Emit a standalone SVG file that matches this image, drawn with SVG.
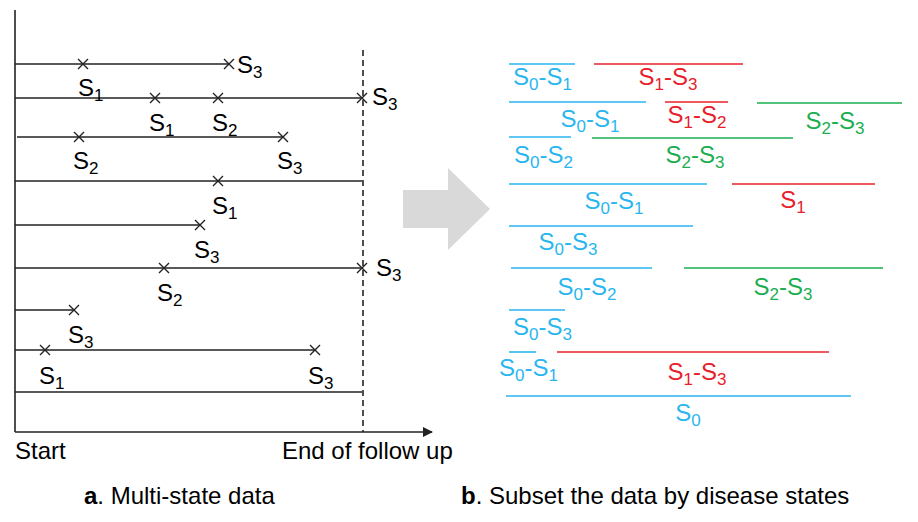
<svg xmlns="http://www.w3.org/2000/svg" width="918" height="522" viewBox="0 0 918 522">
<style>
text{font-family:"Liberation Sans",Arial,sans-serif;font-size:24px}
.s{font-size:17px}
.k{stroke:#222;stroke-width:1.6;fill:none}
.b{stroke:#29b6ef;stroke-width:1.6}
.r{stroke:#e8202a;stroke-width:1.6}
.g{stroke:#1aae4f;stroke-width:1.6}
.tb{fill:#29b6ef}.tr{fill:#e8202a}.tg{fill:#1aae4f}
</style>
<defs>
<path id="x" d="M-5,-5L5,5M-5,5L5,-5" stroke="#222" stroke-width="1.4"/>
<marker id="ar" markerWidth="10" markerHeight="10" refX="9" refY="5" orient="auto" markerUnits="userSpaceOnUse"><path d="M0,0L10,5L0,10z" fill="#222"/></marker>
</defs>
<rect width="918" height="522" fill="#fff"/>
<g id="axes">
<line class="k" x1="15" y1="10" x2="15" y2="432"/>
<line class="k" x1="15" y1="432" x2="432" y2="432" marker-end="url(#ar)"/>
<line class="k" x1="363" y1="50" x2="363" y2="432" stroke-dasharray="6,4"/>
<text x="15" y="459" font-size="18">Start</text>
<text x="282" y="459" font-size="18">End of follow up</text>
</g>
<g id="connectors" class="k">
<line x1="15" y1="64" x2="229" y2="64"/>
<line x1="15" y1="98" x2="362" y2="98"/>
<line x1="17" y1="137" x2="283" y2="137"/>
<line x1="15" y1="181" x2="362" y2="181"/>
<line x1="15" y1="225" x2="200" y2="225"/>
<line x1="15" y1="268" x2="362" y2="268"/>
<line x1="15" y1="310" x2="74" y2="310"/>
<line x1="15" y1="350" x2="315" y2="350"/>
<line x1="15" y1="392" x2="362" y2="392"/>
</g>
<g id="marks">
<use href="#x" x="83" y="64"/><use href="#x" x="229" y="64"/>
<use href="#x" x="155" y="98"/><use href="#x" x="218" y="98"/><use href="#x" x="362" y="98"/>
<use href="#x" x="79" y="137"/><use href="#x" x="283" y="137"/>
<use href="#x" x="218" y="181"/>
<use href="#x" x="200" y="225"/>
<use href="#x" x="164" y="268"/><use href="#x" x="362" y="268"/>
<use href="#x" x="74" y="310"/>
<use href="#x" x="45" y="350"/><use href="#x" x="315" y="350"/>
</g>
<g id="left-labels">
<text x="237" y="73">S<tspan class="s" dy="5">3</tspan></text>
<text x="78" y="96">S<tspan class="s" dy="5">1</tspan></text>
<text x="149" y="131">S<tspan class="s" dy="5">1</tspan></text>
<text x="212" y="131">S<tspan class="s" dy="5">2</tspan></text>
<text x="372" y="105">S<tspan class="s" dy="5">3</tspan></text>
<text x="73" y="169">S<tspan class="s" dy="5">2</tspan></text>
<text x="277" y="169">S<tspan class="s" dy="5">3</tspan></text>
<text x="212" y="214">S<tspan class="s" dy="5">1</tspan></text>
<text x="194" y="258">S<tspan class="s" dy="5">3</tspan></text>
<text x="157" y="301">S<tspan class="s" dy="5">2</tspan></text>
<text x="376" y="276">S<tspan class="s" dy="5">3</tspan></text>
<text x="68" y="343">S<tspan class="s" dy="5">3</tspan></text>
<text x="39" y="384">S<tspan class="s" dy="5">1</tspan></text>
<text x="308" y="384">S<tspan class="s" dy="5">3</tspan></text>
</g>
<g id="arrow"><polygon points="403,190 448,190 448,168 490,209 448,250 448,228 403,228" fill="#d9d9d9"/></g>
<g id="subsets">
<line class="b" x1="509" y1="64" x2="575" y2="64"/><text class="tb" x="513" y="85">S<tspan class="s" dy="5">0</tspan><tspan dy="-5">-S</tspan><tspan class="s" dy="5">1</tspan></text>
<line class="r" x1="594" y1="64" x2="743" y2="64"/><text class="tr" x="668" y="85" text-anchor="middle">S<tspan class="s" dy="5">1</tspan><tspan dy="-5">-S</tspan><tspan class="s" dy="5">3</tspan></text>
<line class="b" x1="509" y1="102" x2="646" y2="102"/><text class="tb" x="590" y="127" text-anchor="middle">S<tspan class="s" dy="5">0</tspan><tspan dy="-5">-S</tspan><tspan class="s" dy="5">1</tspan></text>
<line class="r" x1="665" y1="102" x2="728" y2="102"/><text class="tr" x="697" y="123" text-anchor="middle">S<tspan class="s" dy="5">1</tspan><tspan dy="-5">-S</tspan><tspan class="s" dy="5">2</tspan></text>
<line class="g" x1="757" y1="103" x2="902" y2="103"/><text class="tg" x="835" y="129" text-anchor="middle">S<tspan class="s" dy="5">2</tspan><tspan dy="-5">-S</tspan><tspan class="s" dy="5">3</tspan></text>
<line class="b" x1="509" y1="137" x2="571" y2="137"/><text class="tb" x="514" y="163">S<tspan class="s" dy="5">0</tspan><tspan dy="-5">-S</tspan><tspan class="s" dy="5">2</tspan></text>
<line class="g" x1="592" y1="138" x2="793" y2="138"/><text class="tg" x="695" y="163" text-anchor="middle">S<tspan class="s" dy="5">2</tspan><tspan dy="-5">-S</tspan><tspan class="s" dy="5">3</tspan></text>
<line class="b" x1="509" y1="184" x2="707" y2="184"/><text class="tb" x="614" y="209" text-anchor="middle">S<tspan class="s" dy="5">0</tspan><tspan dy="-5">-S</tspan><tspan class="s" dy="5">1</tspan></text>
<line class="r" x1="732" y1="184" x2="875" y2="184"/><text class="tr" x="793" y="208" text-anchor="middle">S<tspan class="s" dy="5">1</tspan></text>
<line class="b" x1="509" y1="226" x2="693" y2="226"/><text class="tb" x="568" y="250" text-anchor="middle">S<tspan class="s" dy="5">0</tspan><tspan dy="-5">-S</tspan><tspan class="s" dy="5">3</tspan></text>
<line class="b" x1="511" y1="268" x2="652" y2="268"/><text class="tb" x="587" y="295" text-anchor="middle">S<tspan class="s" dy="5">0</tspan><tspan dy="-5">-S</tspan><tspan class="s" dy="5">2</tspan></text>
<line class="g" x1="684" y1="268" x2="883" y2="268"/><text class="tg" x="783" y="295" text-anchor="middle">S<tspan class="s" dy="5">2</tspan><tspan dy="-5">-S</tspan><tspan class="s" dy="5">3</tspan></text>
<line class="b" x1="509" y1="310" x2="565" y2="310"/><text class="tb" x="513" y="335">S<tspan class="s" dy="5">0</tspan><tspan dy="-5">-S</tspan><tspan class="s" dy="5">3</tspan></text>
<line class="b" x1="509" y1="352" x2="536" y2="352"/><text class="tb" x="499" y="376">S<tspan class="s" dy="5">0</tspan><tspan dy="-5">-S</tspan><tspan class="s" dy="5">1</tspan></text>
<line class="r" x1="557" y1="352" x2="829" y2="352"/><text class="tr" x="697" y="380" text-anchor="middle">S<tspan class="s" dy="5">1</tspan><tspan dy="-5">-S</tspan><tspan class="s" dy="5">3</tspan></text>
<line class="b" x1="506" y1="396" x2="851" y2="396"/><text class="tb" x="688" y="421" text-anchor="middle">S<tspan class="s" dy="5">0</tspan></text>
</g>
<g id="captions">
<text x="84" y="504" font-size="25"><tspan font-weight="bold">a</tspan>. Multi-state data</text>
<text x="461" y="504" font-size="25"><tspan font-weight="bold">b</tspan>. Subset the data by disease states</text>
</g>
</svg>
